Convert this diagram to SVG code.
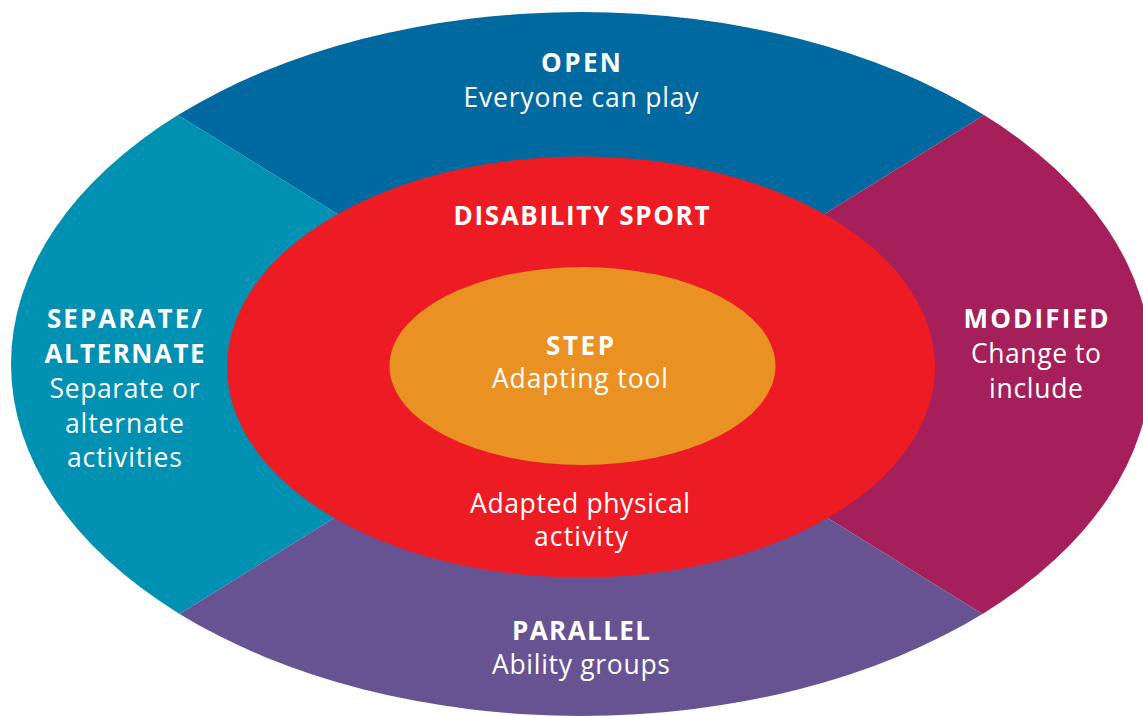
<svg xmlns="http://www.w3.org/2000/svg" width="1143" height="716" viewBox="0 0 1143 716">
  <defs>
    <clipPath id="outerClip">
      <ellipse cx="581" cy="364" rx="570" ry="352"/>
    </clipPath>
  </defs>
  <style>
    text { font-family: "Open Sans", "Liberation Sans", sans-serif; fill: #ffffff; text-anchor: middle; }
    .t { font-size: 26px; font-weight: 700; }
    .s { font-size: 26.5px; font-weight: 400; }
  </style>
  <rect width="1143" height="716" fill="#ffffff"/>

  <g id="sectors" clip-path="url(#outerClip)">
    <g id="open">
      <polygon points="581,365 -219,-131 1381,-131" fill="#0069A0"/>
    </g>
    <g id="separate">
      <polygon points="581,365 -219,-131 -219,861" fill="#0090B2"/>
    </g>
    <g id="modified">
      <polygon points="581,365 1381,-131 1381,861" fill="#A51F5A"/>
    </g>
    <g id="parallel">
      <polygon points="581,365 -219,861 1381,861" fill="#675391"/>
    </g>
  </g>

  <g id="disability-sport">
    <ellipse cx="581" cy="367" rx="354" ry="210.5" fill="#ED1C24"/>
  </g>
  <g id="step">
    <ellipse cx="582.5" cy="366" rx="193" ry="99" fill="#EA9124"/>
  </g>

  <g id="labels-open">
    <text class="t" x="581" y="72" textLength="80" lengthAdjust="spacing">OPEN</text>
    <text class="s" x="581" y="107" textLength="235" lengthAdjust="spacing">Everyone can play</text>
  </g>
  <g id="labels-separate">
    <text class="t" x="124.5" y="328" textLength="155" lengthAdjust="spacing">SEPARATE/</text>
    <text class="t" x="124.5" y="363" textLength="160" lengthAdjust="spacing">ALTERNATE</text>
    <text class="s" x="124.5" y="398" textLength="150" lengthAdjust="spacing">Separate or</text>
    <text class="s" x="124.5" y="433" textLength="119" lengthAdjust="spacing">alternate</text>
    <text class="s" x="124.5" y="467" textLength="115" lengthAdjust="spacing">activities</text>
  </g>
  <g id="labels-modified">
    <text class="t" x="1036" y="328" textLength="145" lengthAdjust="spacing">MODIFIED</text>
    <text class="s" x="1036" y="363" textLength="130" lengthAdjust="spacing">Change to</text>
    <text class="s" x="1036" y="398" textLength="94" lengthAdjust="spacing">include</text>
  </g>
  <g id="labels-parallel">
    <text class="t" x="581" y="640" textLength="138" lengthAdjust="spacing">PARALLEL</text>
    <text class="s" x="581" y="674" textLength="178" lengthAdjust="spacing">Ability groups</text>
  </g>
  <g id="labels-disability">
    <text class="t" x="581.5" y="225" textLength="256" lengthAdjust="spacing">DISABILITY SPORT</text>
    <text class="s" x="580" y="513" textLength="220" lengthAdjust="spacing">Adapted physical</text>
    <text class="s" x="581" y="546" textLength="94" lengthAdjust="spacing">activity</text>
  </g>
  <g id="labels-step">
    <text class="t" x="580" y="355" textLength="68" lengthAdjust="spacing">STEP</text>
    <text class="s" x="580" y="388" textLength="176" lengthAdjust="spacing">Adapting tool</text>
  </g>
</svg>
